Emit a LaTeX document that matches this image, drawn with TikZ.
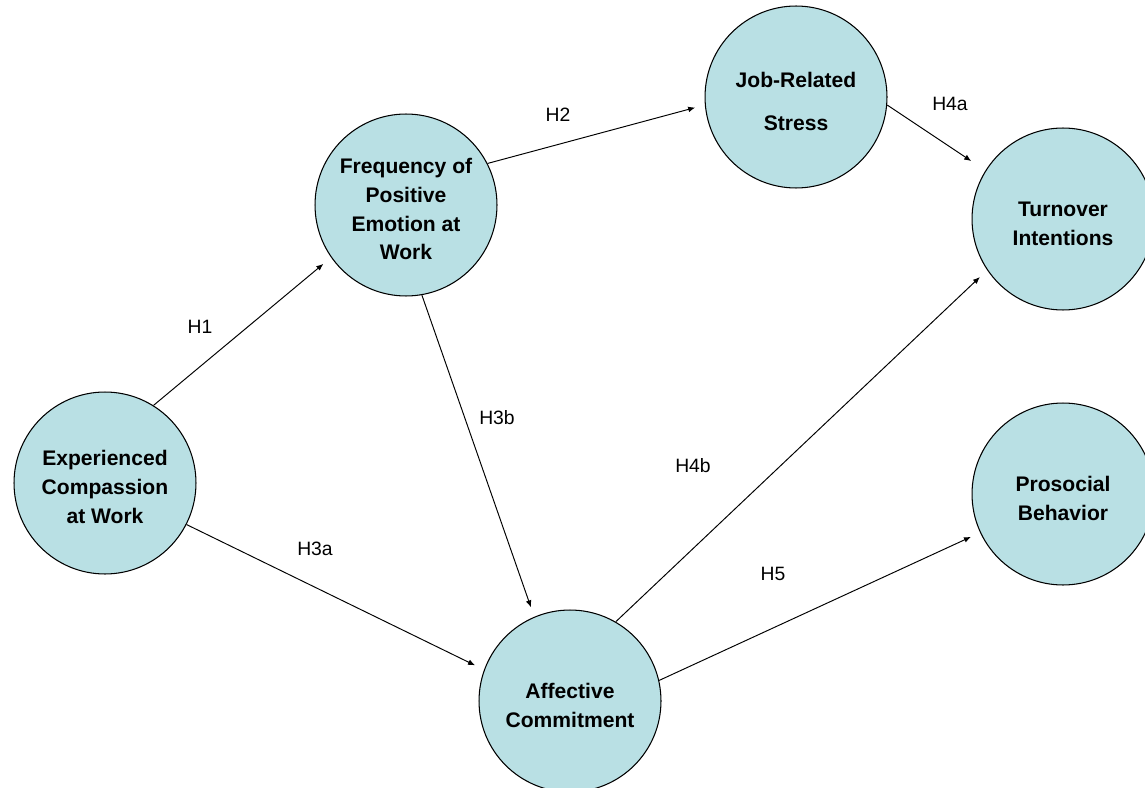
\documentclass[tikz,border=0pt]{standalone}
\usepackage{fontspec}
\setmainfont{Liberation Sans}
\usetikzlibrary{arrows.meta}

\definecolor{constructfill}{RGB}{185,224,228}

\newcommand{\constructtext}[1]{\raisebox{-3.4pt}[\height][\depth]{%
		\begin{tabular}{@{}c@{}}#1\end{tabular}}}

\tikzset{
		construct/.style = {shape=circle, draw, fill=constructfill,
				line width=0.6pt, inner sep=0pt,
				minimum size=3.64cm,
				font=\fontsize{12}{16.4}\selectfont\bfseries},
		hyp/.style       = {-{Latex[length=1.4mm,width=1.15mm]},
				line width=0.55pt, shorten >=0.2cm},
		hyplabel/.style  = {font=\fontsize{11}{13}\selectfont}
	}

\begin{document}
\begin{tikzpicture}[x=0.02cm, y=-0.02cm]
	\useasboundingbox (0,0) rectangle (1145,787);
	\node [construct] (exp)  at (105,483)  {\constructtext{Experienced\\Compassion\\at Work}};
	\node [construct] (freq) at (406,205)  {\constructtext{Frequency of\\Positive\\Emotion at\\Work}};
	\node [construct] (job)  at (796,97)   {\constructtext{Job-Related\\[8pt]Stress}};
	\node [construct] (turn) at (1063,219) {\constructtext{Turnover\\Intentions}};
	\node [construct] (pro)  at (1063,494) {\constructtext{Prosocial\\Behavior}};
	\node [construct] (aff)  at (570,701)  {\constructtext{Affective\\Commitment}};

	\draw [hyp] (exp.58)   -- (freq.215);
	\draw [hyp] (freq.27)  -- (job.185);
	\draw [hyp] (exp.-27)  -- (aff.160);
	\draw [hyp] (freq.-80) -- (aff.113);
	\draw [hyp, shorten >=0.34cm] (job.-5) -- (turn.148);
	\draw [hyp] (aff.60)   -- (turn.214);
	\draw [hyp] (aff.13)   -- (pro.205);

	\node [hyplabel] (h1)  at (200,327) {H1};
	\node [hyplabel] (h2)  at (558,115) {H2};
	\node [hyplabel] (h3a) at (315,549) {H3a};
	\node [hyplabel] (h3b) at (497,418) {H3b};
	\node [hyplabel] (h4a) at (950,104) {H4a};
	\node [hyplabel] (h4b) at (693,466) {H4b};
	\node [hyplabel] (h5)  at (773,574) {H5};
\end{tikzpicture}
\end{document}
